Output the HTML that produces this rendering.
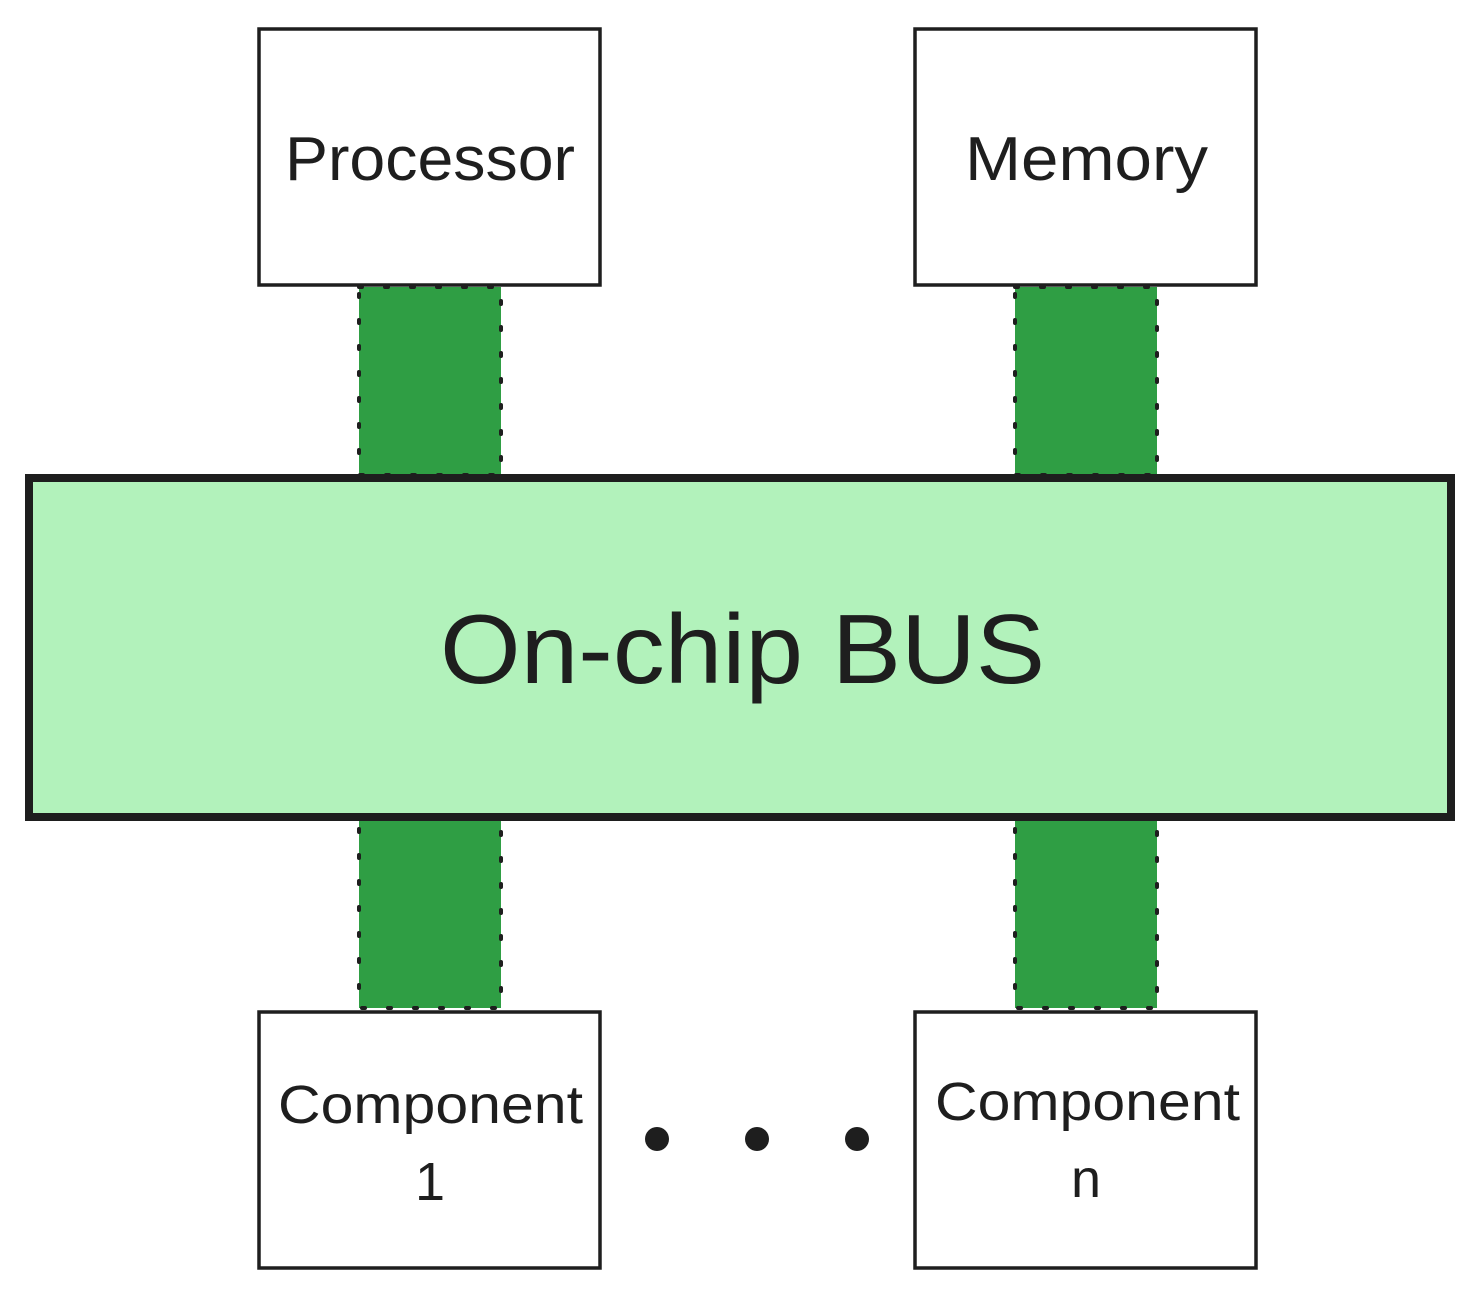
<!DOCTYPE html>
<html><head><meta charset="utf-8"><style>html,body{margin:0;padding:0;background:#fff}</style></head>
<body>
<svg width="1480" height="1297" viewBox="0 0 1480 1297" xmlns="http://www.w3.org/2000/svg" font-family="Liberation Sans, sans-serif" fill="#1e1e1e">
<g stroke="#1e1e1e" stroke-width="4" stroke-dasharray="3 23" stroke-linecap="round" fill="#2f9e44">
<rect x="359" y="287" width="142" height="188"/>
<rect x="1015" y="287" width="142" height="188"/>
<rect x="359" y="818" width="142" height="190"/>
<rect x="1015" y="818" width="142" height="190"/>
</g>
<g stroke="#1e1e1e" stroke-width="3.5" fill="#fff">
<rect x="259" y="29" width="341" height="256"/>
<rect x="915" y="29" width="341" height="256"/>
<rect x="259" y="1012" width="341" height="256"/>
<rect x="915" y="1012" width="341" height="256"/>
</g>
<rect x="29" y="478" width="1422" height="339" fill="#b2f2bb" stroke="#1e1e1e" stroke-width="8"/>
<g>
<text x="285" y="180" font-size="62" textLength="290" lengthAdjust="spacingAndGlyphs">Processor</text>
<text x="965" y="180" font-size="62" textLength="243" lengthAdjust="spacingAndGlyphs">Memory</text>
<text x="440" y="683" font-size="98" textLength="605" lengthAdjust="spacingAndGlyphs">On-chip BUS</text>
<text x="278" y="1123" font-size="54" textLength="305" lengthAdjust="spacingAndGlyphs">Component</text>
<text x="430" y="1200" font-size="54" text-anchor="middle">1</text>
<text x="935" y="1120" font-size="54" textLength="305" lengthAdjust="spacingAndGlyphs">Component</text>
<text x="1086" y="1197" font-size="54" text-anchor="middle">n</text>
</g>
<circle cx="657" cy="1139" r="12"/>
<circle cx="757" cy="1139" r="12"/>
<circle cx="857" cy="1139" r="12"/>
</svg>
</body></html>
